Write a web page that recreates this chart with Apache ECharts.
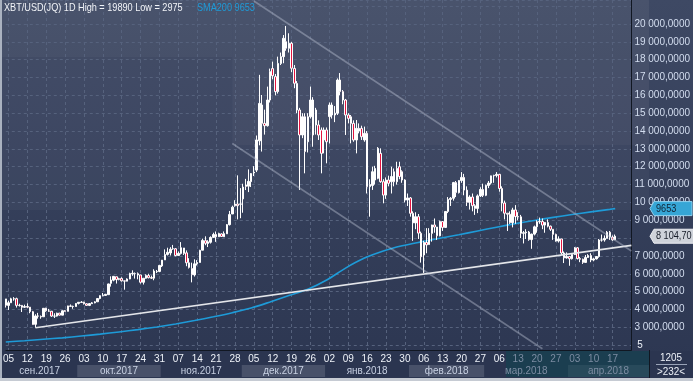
<!DOCTYPE html>
<html><head><meta charset="utf-8">
<script src="https://cdn.jsdelivr.net/npm/echarts@6/dist/echarts.min.js"></script>
<style>html,body{margin:0;padding:0;background:#2d3853;}#c{width:693px;height:381px;}</style>
</head><body><div id="c"></div>
<script>
// ---------- DATA ----------
const symbolTitle = 'XBT/USD(JQ) 1D';
const firstDate = '2017-09-04';
const dayCount = 233; // visible bars incl. empty right margin
// candles: [open, close, low, high]
const sep = [[4591,4236,4108,4591],[4228,4376,3971,4484],[4376,4597,4376,4655],[4590,4599,4491,4692],[4605,4229,4106,4661],[4229,4226,4163,4322],[4229,4122,3857,4245],[4123,4161,4085,4268],[4168,4130,4085,4345],[4131,3882,3789,4131],[3875,3154,3153,3920],[3166,3637,2975,3733],[3637,3625,3487,3808],[3606,3582,3479,3664],[3591,4065,3591,4079],[4073,3925,3869,4094],[3916,3906,3868,4031],[3901,3631,3586,3916],[3629,3630,3522,3788],[3629,3792,3598,3819],[3796,3682,3666,3796],[3681,3926,3681,3950],[3929,3892,3884,3969],[3893,4200,3893,4210],[4198,4174,4154,4280],[4171,4163,4039,4214],[4166,4338,4166,4358]];
const oct = [[4341,4403,4282,4403],[4395,4409,4380,4470],[4408,4317,4278,4432],[4320,4229,4209,4352],[4229,4328,4190,4362],[4325,4370,4320,4416],[4369,4426,4347,4460],[4429,4611,4429,4624],[4615,4773,4569,4789],[4776,4789,4733,4923],[4789,4848,4761,4873],[4829,5430,4829,5446],[5464,5650,5280,5857],[5643,5857,5579,5864],[5835,5678,5451,5836],[5687,5725,5633,5776],[5741,5605,5560,5800],[5603,5590,5109,5603],[5584,5708,5574,5744],[5708,6011,5693,6061],[5996,6031,5888,6194],[6006,6008,5731,6075],[6006,5930,5688,6075],[5935,5526,5450,5935],[5524,5750,5397,5758],[5748,5904,5727,5970],[5900,5780,5741,6000],[5788,5753,5710,5900],[5754,6153,5636,6255],[6114,6130,6040,6214],[6132,6468,6101,6470]];
const nov = [[6440,6767,6377,6767],[6777,7078,6777,7367],[7087,7207,7022,7461],[7164,7379,7024,7492],[7404,7407,7344,7617],[7403,7022,6978,7445],[7023,7144,7023,7253],[7141,7459,7079,7776],[7446,7143,7056,7446],[7173,6618,6423,7312],[6618,6357,6294,6873],[6295,5950,5519,6625],[5938,6559,5845,6811],[6561,6635,6463,6764],[6634,7315,6634,7343],[7323,7871,7323,7967],[7853,7708,7601,8100],[7697,7790,7497,7884],[7766,8036,7694,8101],[8039,8200,8034,8302],[8205,8072,7789,8373],[8077,8254,8077,8302],[8233,8091,8073,8267],[8074,8250,8074,8375],[8241,8753,8241,8790],[8754,9319,8707,9522],[9352,9733,9352,9818],[9823,9907,9757,10125],[9907,9817,9048,11517],[9900,9916,9114,10801]];
const dec = [[10198,10859,9422,11046],[10976,10895,10694,11320],[10912,11180,10578,11852],[11165,11616,10863,11642],[11650,11696,11477,12032],[11810,13500,11700,13750],[13450,15550,13200,17150],[15460,14430,12850,16020],[14430,14300,13800,15200],[14300,15740,14250,16490],[15740,17330,15600,17500],[17500,17100,16900,17890],[17050,16210,16000,17200],[16210,17790,16100,18170],[17790,18170,17700,18400],[18170,19200,17800,19380],[19010,18640,18500,19890],[18640,18920,18400,19480],[18920,17520,17300,19000],[17510,16680,16400,17700],[16670,15180,15000,16800],[15180,13780,10700,15300],[13780,14800,13600,15000],[14800,12850,11630,15000],[13400,14800,12800,15000],[14800,15740,14700,16490],[15740,13780,13120,15900],[14340,15180,13800,15300],[14340,13780,13500,14600],[14060,12750,11630,14200],[13500,14060,12750,14200]];
const jan = [[14060,13400,12190,14200],[14810,15460,13300,15600],[15460,14900,14700,15600],[14900,15000,14500,15400],[15000,16860,14900,16950],[16860,16210,16000,17250],[16210,15740,15500,16300],[15740,14900,13780,15800],[14900,14710,14430,15000],[14800,14430,13310,14900],[14430,13500,13400,14600],[13500,14150,12750,14620],[14000,14150,13870,14430],[14150,13680,13500,14300],[13500,13870,13400,14250],[13870,10880,10500,14000],[10880,11000,9200,11300],[10950,11720,10700,12000],[11255,11900,11000,12050],[11350,13030,11300,13100],[12750,11160,11100,13030],[11160,10410,9950,11300],[10410,11255,10200,11400],[11255,11070,10900,11500],[11160,11450,10500,12000],[11720,11160,10900,11900],[11160,11900,11000,12280],[12000,11450,11300,12280],[11720,11255,11100,11800],[11255,10133,10000,11300],[10133,10250,9800,10500]];
const feb = [[10250,9390,9200,10300],[9390,8850,7850,9500],[8850,9200,8500,9450],[9200,8280,7950,9350],[8270,6955,6626,8365],[7051,7754,6048,7850],[7755,7621,7150,8558],[7637,8265,7637,8558],[8265,8736,7800,8750],[8736,8621,8300,9100],[8621,8129,7900,8621],[8129,8926,8100,8980],[8926,8598,8400,8950],[8598,9494,8598,9520],[9494,10166,9400,10300],[10166,10233,9800,10300],[10233,11112,10100,11150],[11112,10551,10300,11200],[10551,11225,10500,11250],[11225,11403,11100,11700],[11403,10690,10400,11600],[10690,10005,9800,10900],[10005,10301,9600,10400],[10301,9813,9500,10500],[9813,9664,9300,9900],[9664,10366,9400,10450],[10366,10725,10300,10850],[10725,10397,10300,11050]];
const mar = [[10397,10951,10350,11000],[10951,11086,10800,11200],[11086,11489,11000,11500],[11489,11512,11100,11550],[11512,11573,11400,11700],[11573,10780,10600,11600],[10780,9965,9500,10900],[9965,9396,9050,10100],[9396,9337,8400,9400],[9337,8866,8800,9500],[8866,9578,8600,9700],[9578,9205,8800,9850],[9205,9194,9000,9450],[9194,8270,8000,9300],[8270,8301,7700,8400],[8301,8338,7950,8500],[8338,7916,7850,8400],[7916,8223,7400,8250],[8223,8630,8150,8700],[8630,8913,8300,9000],[8913,8930,8800,9150],[8930,8728,8500,9100],[8728,8879,8300,8900],[8879,8668,8600,9050],[8668,8495,8400,8700],[8495,8209,7900,8500],[8209,7834,7800,8250],[7834,7954,7750,8100],[7954,7165,7050,7960],[7165,6891,6600,7250],[6891,6973,6850,7200]];
const apr = [[6973,6844,6450,7000],[6844,7083,6800,7150],[7083,7456,7050,7500],[7456,6853,6800,7500],[6853,6812,6650,6950],[6812,6636,6550,6850],[6636,6911,6630,7050],[6911,7023,6900,7100],[7023,6770,6650,7150],[6770,6834,6700,6900],[6834,6968,6800,6980],[6968,7889,6900,7950],[7889,7895,7800,8200],[7895,7986,7800,8150],[7986,8329,7980,8400],[8329,8058,7900,8400],[8058,7902,7850,8150],[7902,8104.7,7900,8200]];
// SMA200
const smaDates = ['2017-09-04','2017-09-11','2017-09-18','2017-09-25','2017-10-02','2017-10-09','2017-10-16','2017-10-23','2017-10-30','2017-11-06','2017-11-13','2017-11-20','2017-11-27','2017-12-04','2017-12-11','2017-12-18','2017-12-25','2018-01-01','2018-01-08','2018-01-15','2018-01-22','2018-01-29','2018-02-05','2018-02-12','2018-02-19','2018-02-26','2018-03-05','2018-03-12','2018-03-19','2018-03-26','2018-04-02','2018-04-09','2018-04-16','2018-04-18'];
const smaValues = [2175,2250,2330,2410,2510,2620,2740,2870,3020,3190,3380,3590,3820,4080,4420,4780,5130,5650,6320,6880,7280,7570,7790,7990,8190,8400,8610,8810,8990,9160,9320,9470,9610,9653];
// drawn trend lines: [date, price] pairs
const supportLine = [['2017-09-15',2975],['2018-04-24',7590]];
const channelUpper = [['2017-12-05',21290],['2018-04-24',7276]];
const channelLower = [['2017-11-27',13300],['2018-03-22',1800]];
// month bands (bottom axis)
const monthStarts = ['2017-09-04','2017-10-01','2017-11-01','2017-12-01','2018-01-01','2018-02-01','2018-03-01','2018-04-01'];
const monthLabels = ['сен.2017','окт.2017','ноя.2017','дек.2017','янв.2018','фев.2018','мар.2018','апр.2018'];
const dimFrom = '2018-03-09';
const lastTickDate = '2018-04-17';
const cornerTop = '1205', cornerBottom = '>232<', markerText = '5';

// ---------- BUILD ----------
const dates = [];
{ const d0 = new Date(firstDate + 'T00:00:00Z');
  for (let i = 0; i < dayCount; i++) { const d = new Date(d0.getTime() + i * 86400000); dates.push(d.toISOString().slice(0,10)); } }
const candles = [].concat(sep, oct, nov, dec, jan, feb, mar, apr);
const hi = Math.max(...candles.map(c => c[3]));
const lo = Math.min(...candles.map(c => c[2]));
const lastClose = candles[candles.length-1][1];
const lastSma = smaValues[smaValues.length-1];
const FONT = "'Liberation Sans',Arial,sans-serif";
const NARROW = 0.83;
function fmtNum(v, dec) {
  const parts = v.toFixed(dec).split('.');
  return parts[0].replace(/\B(?=(\d{3})+(?!\d))/g, ' ') + (dec ? ',' + parts[1] : '');
}
const grid = {left: 2, right: 44, top: 0, bottom: 31};
const chart = echarts.init(document.getElementById('c'), null, {renderer: 'canvas'});
const lineItem = (pts, style) => [{coord: pts[0], lineStyle: style}, {coord: pts[1]}];
chart.setOption({
  animation: false,
  backgroundColor: {type: 'linear', x: 0, y: 0, x2: 0, y2: 1, colorStops: [{offset: 0, color: '#3e4964'}, {offset: 1, color: '#2c3651'}]},
  grid: grid,
  xAxis: {
    type: 'category', data: dates, boundaryGap: false,
    axisLine: {show: true, lineStyle: {color: '#111722', width: 1}},
    axisTick: {show: false},
    axisLabel: {interval: (i, v) => i % 7 === 1 && v <= lastTickDate, formatter: v => v.slice(8), fontSize: 10, fontFamily: FONT, margin: 4,
      color: (v) => (v >= dimFrom ? '#7c8ca2' : '#eef2f8'), hideOverlap: false},
    splitLine: {show: true, interval: (i) => i % 7 === 1, lineStyle: {color: '#56627d', type: [3, 3], width: 1}}
  },
  yAxis: {
    type: 'value', position: 'right', min: 1728, max: 21345, splitNumber: 20, minInterval: 1000, maxInterval: 1000,
    axisLine: {show: true, lineStyle: {color: '#111722', width: 1}},
    axisTick: {show: false},
    axisLabel: {formatter: v => (v > 20000 || v < 3000 || Math.abs(v - lastClose) < 600) ? '' : fmtNum(v, 4), color: '#d3ddef', fontSize: 10, fontFamily: FONT, margin: 3, showMinLabel: false, showMaxLabel: false},
    splitLine: {show: true, lineStyle: {color: '#56627d', type: [3, 3], width: 1}}
  },
  series: [
    {
      type: 'line', data: smaDates.map((d, i) => [d, smaValues[i]]), symbol: 'none', smooth: 0.3,
      lineStyle: {color: '#1e9bd8', width: 1.6}, z: 2, silent: true
    },
    {
      type: 'candlestick', data: candles, barWidth: 2, z: 3,
      itemStyle: {color: '#ffffff', color0: '#e3143f', borderColor: '#ffffff', borderColor0: '#ffffff', borderWidth: 1},
      markLine: {
        silent: true, symbol: ['none', 'none'], label: {show: false}, animation: false,
        data: [
          lineItem(supportLine, {color: '#e4e6ea', width: 1.6, type: 'solid'}),
          lineItem(channelUpper, {color: 'rgba(190,198,214,0.42)', width: 1.6, type: 'solid'}),
          lineItem(channelLower, {color: 'rgba(190,198,214,0.42)', width: 1.6, type: 'solid'})
        ]
      }
    }
  ]
});

// ---------- overlays positioned through the chart's own scales ----------
const px = d => chart.convertToPixel({xAxisIndex: 0}, d);
const py = v => chart.convertToPixel({yAxisIndex: 0}, v);
const step = px(dates[1]) - px(dates[0]);
const plotR = 693 - grid.right, plotB = 381 - grid.bottom;
const g = [];
const txt = (text, x, y, color, align, scale, z) => ({type: 'text', z: z || 20, silent: true, x: x, y: y, scaleX: scale || NARROW,
  style: {text: text, x: 0, y: 0, align: align || 'left', verticalAlign: 'middle', font: '11px ' + FONT, fill: color}});
// soft lighter zones in the plot background
g.push({type: 'rect', z: -10, silent: true, shape: {x: 2, y: 0, width: plotR - 2, height: 210}, style: {fill: 'rgba(255,255,255,0.03)'}});
g.push({type: 'rect', z: -10, silent: true, shape: {x: px('2017-11-27'), y: 0, width: plotR - px('2017-11-27'), height: 145}, style: {fill: 'rgba(255,255,255,0.03)'}});
g.push({type: 'rect', z: -10, silent: true, shape: {x: 2, y: 0, width: px('2017-11-27') - 2, height: 57}, style: {fill: 'rgba(255,255,255,0.03)'}});
// bottom axis strip
g.push({type: 'rect', z: -5, silent: true, shape: {x: 0, y: plotB + 1, width: 693, height: 381 - plotB}, style: {fill: '#2b3550'}});
monthStarts.forEach((m, i) => {
  const x0 = i === 0 ? 2 : px(m) - step / 2;
  const x1 = i === monthStarts.length - 1 ? plotR : px(monthStarts[i + 1]) - step / 2;
  g.push({type: 'rect', z: -4, silent: true, shape: {x: x0, y: 365, width: x1 - x0, height: 12}, style: {fill: i % 2 ? '#485169' : '#2b3550'}});
  g.push(txt(monthLabels[i], (x0 + x1) / 2, 371, m >= '2018-03-01' ? '#7c8ca2' : '#c9d2e4', 'center', 0.9));
});
const dimX = px(dimFrom) - step / 2;
g.push({type: 'rect', z: -3, silent: true, shape: {x: dimX, y: plotB + 1, width: plotR - dimX, height: 377 - plotB - 1}, style: {fill: 'rgba(15,70,80,0.55)'}});
// right-bottom corner box
g.push({type: 'line', z: 20, silent: true, shape: {x1: plotR + 0.5, y1: plotB, x2: plotR + 0.5, y2: 378}, style: {stroke: '#111722', lineWidth: 1}});
g.push(txt(cornerTop, 671, 358, '#eef2f8', 'center', 0.9));
g.push({type: 'line', z: 20, silent: true, shape: {x1: 656, y1: 364.5, x2: 687, y2: 364.5}, style: {stroke: '#9aa4b8', lineWidth: 1}});
g.push(txt(cornerBottom, 671, 372, '#eef2f8', 'center', 0.9));
g.push(txt(markerText, 640, 345, '#eef2f8', 'center', 0.9));
// price tags on the right axis
const ySma = py(lastSma), yClose = py(lastClose);
g.push({type: 'polygon', z: 30, silent: true, shape: {points: [[plotR + 1, ySma], [plotR + 5, ySma - 7], [692, ySma - 7], [692, ySma + 7], [plotR + 5, ySma + 7]]}, style: {fill: '#36a6d6', stroke: '#8fd0ee', lineWidth: 1}});
g.push(txt(String(lastSma), plotR + 7, ySma, '#0f2233', 'left', NARROW, 31));
g.push({type: 'polygon', z: 30, silent: true, shape: {points: [[plotR + 1, yClose], [plotR + 5, yClose - 7], [694, yClose - 7], [694, yClose + 7], [plotR + 5, yClose + 7]]}, style: {fill: '#cfd3da', stroke: '#eceef2', lineWidth: 1}});
g.push(txt(fmtNum(lastClose, 2), plotR + 7, yClose, '#161c28', 'left', NARROW, 31));
// title
g.push(txt(symbolTitle + ' High = ' + hi + ' Low = ' + lo, 4, 8, '#f2f4f8', 'left', NARROW, 40));
g.push(txt('SMA200 ' + lastSma, 197, 8, '#1e9bd8', 'left', NARROW, 40));
// window frame
g.push({type: 'rect', z: 50, silent: true, shape: {x: 0, y: 0, width: 2, height: 381}, style: {fill: '#aab2c0'}});
g.push({type: 'rect', z: 50, silent: true, shape: {x: 0, y: 378, width: 693, height: 3}, style: {fill: '#c6cbd3'}});
chart.setOption({graphic: g});
</script>
</body></html>
